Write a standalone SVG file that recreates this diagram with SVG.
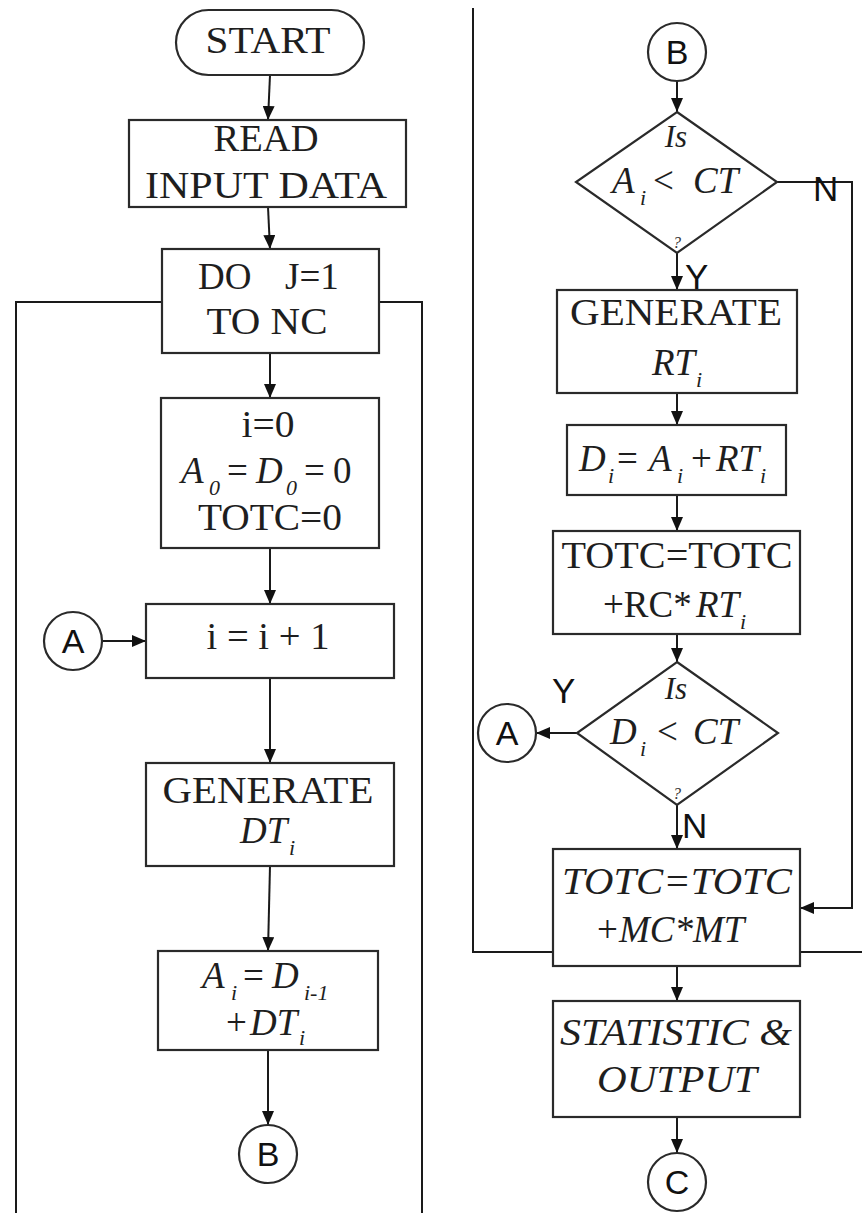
<svg xmlns="http://www.w3.org/2000/svg" width="862" height="1213" viewBox="0 0 862 1213">
<style>
  .bx{fill:#fff;stroke:#2a2a2a;stroke-width:2.2}
  .ln{fill:none;stroke:#1a1a1a;stroke-width:2}
  .t{font-family:"Liberation Serif","Times New Roman",serif;font-size:37px;fill:#1e1e1e}
  .c{text-anchor:middle}
  .it{font-style:italic}
  .sub{font-style:italic;font-size:22px}
  .q{font-family:"Liberation Serif",serif;font-style:italic;font-size:16px;fill:#333;text-anchor:middle}
  .is{font-family:"Liberation Serif",serif;font-style:italic;font-size:31px;fill:#1e1e1e;text-anchor:middle}
  .s{font-family:"Liberation Sans",Arial,sans-serif;font-size:35px;fill:#111}
  .cl{font-family:"Liberation Sans",Arial,sans-serif;font-size:34px;fill:#111;text-anchor:middle}
</style>
<defs>
  <marker id="ah" markerUnits="userSpaceOnUse" markerWidth="14" markerHeight="12" refX="14" refY="6" orient="auto">
    <path d="M0,0 L14,6 L0,12 z" fill="#111"/>
  </marker>
</defs>
<rect width="862" height="1213" fill="#fff"/>

<g id="connectors">
  <path class="ln" d="M270,75 L268,120" marker-end="url(#ah)"/>
  <path class="ln" d="M268,207 L270,249" marker-end="url(#ah)"/>
  <path class="ln" d="M270,353 L270,398" marker-end="url(#ah)"/>
  <path class="ln" d="M270,548 L270,604" marker-end="url(#ah)"/>
  <path class="ln" d="M270,678 L270,763" marker-end="url(#ah)"/>
  <path class="ln" d="M270,866 L268,951" marker-end="url(#ah)"/>
  <path class="ln" d="M268,1050 L268,1125" marker-end="url(#ah)"/>
  <path class="ln" d="M102,641 L146,641" marker-end="url(#ah)"/>
  <path class="ln" d="M162,302 L16,302 L16,1213"/>
  <path class="ln" d="M379,302 L422,302 L422,1213"/>

  <path class="ln" d="M473,8 L473,952 L553,952"/>
  <path class="ln" d="M800,952 L862,952"/>
  <path class="ln" d="M677,81 L677,112" marker-end="url(#ah)"/>
  <path class="ln" d="M677,253 L677,290" marker-end="url(#ah)"/>
  <path class="ln" d="M777,182 L852,182 L852,908 L800,908" marker-end="url(#ah)"/>
  <path class="ln" d="M677,393 L677,425" marker-end="url(#ah)"/>
  <path class="ln" d="M677,495 L677,531" marker-end="url(#ah)"/>
  <path class="ln" d="M677,634 L677,662" marker-end="url(#ah)"/>
  <path class="ln" d="M577,733 L536,733" marker-end="url(#ah)"/>
  <path class="ln" d="M677,805 L677,849" marker-end="url(#ah)"/>
  <path class="ln" d="M677,966 L677,1001" marker-end="url(#ah)"/>
  <path class="ln" d="M677,1117 L677,1153" marker-end="url(#ah)"/>
  <text class="s" x="813" y="201">N</text>
  <text class="s" x="685" y="289">Y</text>
  <text class="s" x="552" y="703">Y</text>
  <text class="s" x="682" y="838">N</text>
</g>

<g id="start">
  <rect class="bx" x="176" y="10" width="188" height="65" rx="32.5"/>
  <text class="t c" x="268" y="53" textLength="125" lengthAdjust="spacingAndGlyphs">START</text>
</g>
<g id="read">
  <rect class="bx" x="129" y="120" width="277" height="87"/>
  <text class="t c" x="266" y="151" textLength="105" lengthAdjust="spacingAndGlyphs">READ</text>
  <text class="t c" x="266" y="198" textLength="242" lengthAdjust="spacingAndGlyphs">INPUT DATA</text>
</g>
<g id="do">
  <rect class="bx" x="162" y="249" width="217" height="104"/>
  <text class="t" y="289"><tspan x="198">DO</tspan><tspan x="285">J=1</tspan></text>
  <text class="t c" x="267" y="334" textLength="121" lengthAdjust="spacingAndGlyphs">TO NC</text>
</g>
<g id="init">
  <rect class="bx" x="161" y="398" width="218" height="150"/>
  <text class="t c" x="268" y="437" textLength="53" lengthAdjust="spacingAndGlyphs">i=0</text>
  <text class="t" y="483"><tspan class="it" x="181">A</tspan><tspan class="sub" x="209" y="495">0</tspan><tspan x="227" y="483">=</tspan><tspan class="it" x="256">D</tspan><tspan class="sub" x="286" y="495">0</tspan><tspan x="304" y="483">=</tspan><tspan x="333">0</tspan></text>
  <text class="t c" x="270" y="530" textLength="144" lengthAdjust="spacingAndGlyphs">TOTC=0</text>
</g>
<g id="incr">
  <rect class="bx" x="146" y="604" width="248" height="74"/>
  <text class="t c" x="268" y="649" textLength="123" lengthAdjust="spacingAndGlyphs">i = i + 1</text>
</g>
<g id="connA1">
  <circle class="bx" cx="73" cy="641" r="29"/>
  <text class="cl" x="73" y="653">A</text>
</g>
<g id="genDT">
  <rect class="bx" x="146" y="763" width="248" height="103"/>
  <text class="t c" x="268" y="803" textLength="211" lengthAdjust="spacingAndGlyphs">GENERATE</text>
  <text class="t" y="843"><tspan class="it" x="240">DT</tspan><tspan class="sub" x="289" y="855">i</tspan></text>
</g>
<g id="calcA">
  <rect class="bx" x="158" y="951" width="220" height="99"/>
  <text class="t" y="988"><tspan class="it" x="202">A</tspan><tspan class="sub" x="231" y="1000">i</tspan><tspan x="243" y="988">=</tspan><tspan class="it" x="272">D</tspan><tspan class="sub" x="304" y="1000">i-1</tspan></text>
  <text class="t" y="1035"><tspan x="226">+</tspan><tspan class="it" x="250">DT</tspan><tspan class="sub" x="299" y="1045">i</tspan></text>
</g>
<g id="connB1">
  <circle class="bx" cx="268" cy="1154" r="29"/>
  <text class="cl" x="268" y="1166">B</text>
</g>

<g id="connB2">
  <circle class="bx" cx="677" cy="52" r="29"/>
  <text class="cl" x="677" y="64">B</text>
</g>
<g id="dec1">
  <polygon class="bx" points="677,112 777,182 677,253 576,182"/>
  <text class="is" x="676" y="147">Is</text>
  <text class="t" y="193"><tspan class="it" x="612">A</tspan><tspan class="sub" x="640" y="205">i</tspan><tspan x="653" y="193">&lt;</tspan><tspan class="it" x="693">CT</tspan></text>
  <text class="q" x="677" y="248">?</text>
</g>
<g id="genRT">
  <rect class="bx" x="557" y="290" width="240" height="103"/>
  <text class="t c" x="676" y="325" textLength="212" lengthAdjust="spacingAndGlyphs">GENERATE</text>
  <text class="t" y="375"><tspan class="it" x="652">RT</tspan><tspan class="sub" x="696" y="387">i</tspan></text>
</g>
<g id="calcD">
  <rect class="bx" x="567" y="425" width="219" height="70"/>
  <text class="t" y="471"><tspan class="it" x="579">D</tspan><tspan class="sub" x="608" y="483">i</tspan><tspan x="617" y="471">=</tspan><tspan class="it" x="649">A</tspan><tspan class="sub" x="677" y="483">i</tspan><tspan x="691" y="471">+</tspan><tspan class="it" x="716">RT</tspan><tspan class="sub" x="760" y="483">i</tspan></text>
</g>
<g id="totc1">
  <rect class="bx" x="553" y="531" width="247" height="103"/>
  <text class="t c" x="677" y="568" textLength="231" lengthAdjust="spacingAndGlyphs">TOTC=TOTC</text>
  <text class="t" y="617"><tspan x="603">+RC*</tspan><tspan class="it" x="696">RT</tspan><tspan class="sub" x="740" y="629">i</tspan></text>
</g>
<g id="dec2">
  <polygon class="bx" points="677,662 778,733 677,805 577,733"/>
  <text class="is" x="676" y="699">Is</text>
  <text class="t" y="744"><tspan class="it" x="610">D</tspan><tspan class="sub" x="640" y="756">i</tspan><tspan x="657" y="744">&lt;</tspan><tspan class="it" x="693">CT</tspan></text>
  <text class="q" x="677" y="799">?</text>
</g>
<g id="connA2">
  <circle class="bx" cx="507" cy="733" r="29"/>
  <text class="cl" x="507" y="745">A</text>
</g>
<g id="totc2">
  <rect class="bx" x="553" y="849" width="247" height="117"/>
  <text class="t it c" x="677" y="894" textLength="230" lengthAdjust="spacingAndGlyphs">TOTC=TOTC</text>
  <text class="t" y="942"><tspan x="597">+</tspan><tspan class="it" x="619">MC*MT</tspan></text>
</g>
<g id="stat">
  <rect class="bx" x="553" y="1001" width="247" height="116"/>
  <text class="t it c" x="676" y="1045" textLength="232" lengthAdjust="spacingAndGlyphs">STATISTIC &amp;</text>
  <text class="t it c" x="677" y="1092" textLength="160" lengthAdjust="spacingAndGlyphs">OUTPUT</text>
</g>
<g id="connC">
  <circle class="bx" cx="677" cy="1182" r="29"/>
  <text class="cl" x="677" y="1194">C</text>
</g>
</svg>
